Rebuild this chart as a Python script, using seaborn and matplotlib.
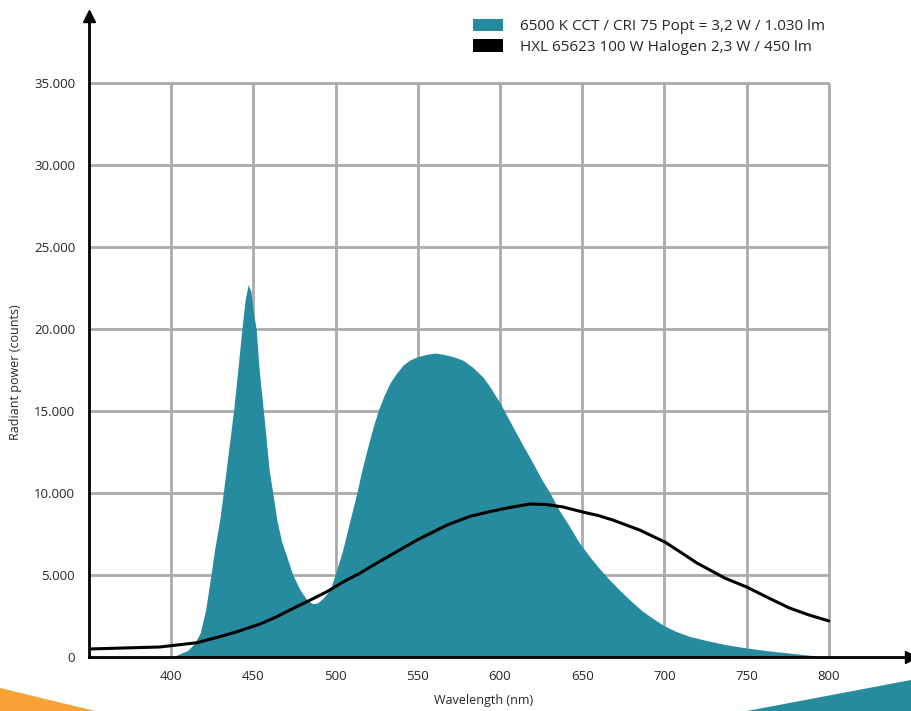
import matplotlib
matplotlib.use("Agg")
import matplotlib.pyplot as plt
from matplotlib.patches import Patch, Polygon
from matplotlib.ticker import FuncFormatter
import seaborn as sns
import pandas as pd

# LED 6500 K spectrum
led_wl = [350, 400, 403, 410, 414, 417.6, 421, 423.7, 426.5, 429.8, 432.8, 437.9, 440.5, 443, 445,
          446.8, 448.5, 450, 451.7, 453.5, 456.1, 459.6, 464.3, 467, 470.3, 474, 478.4, 482.5,
          486, 489, 492, 496.7, 500, 504, 508.8, 512.9, 516, 519, 522.5, 526, 529.5, 533, 537, 541,
          545, 549.4, 555, 560.5, 566, 572, 577.5, 583, 589.7, 594, 600, 608, 614, 620, 625, 630.4,
          636, 642.5, 648, 654.7, 660, 665, 672, 679, 686, 693, 700, 707, 715.5, 725.8, 737, 750,
          763, 776, 788, 800]
led_val = [0, 0, 100, 400, 800, 1460, 2900, 4700, 6600, 8560, 10900, 15000, 17500, 20000, 21800,
           22700, 22300, 21000, 20000, 17500, 15000, 11400, 8350, 7100, 6120, 5000, 4090, 3480,
           3250, 3300, 3550, 4090, 5120, 6400, 8350, 10000, 11400, 12600, 13900, 15060, 15950, 16700, 17300, 17800,
           18100, 18300, 18450, 18540, 18450, 18300, 18100, 17700, 17070, 16460, 15490, 14000, 12900, 11830, 10900, 10000,
           8950, 7930, 7000, 6100, 5450, 4880, 4150, 3480, 2850, 2350, 1900, 1560, 1250, 1000, 760, 550,
           380, 240, 110, 0]

# halogen lamp spectrum
hal_wl = [350, 375, 393, 400, 415.6, 428, 440, 454, 464.3, 472.3, 482.5, 494.7, 505, 515, 521, 535,
          549.5, 567.8, 581.8, 594, 605, 618.2, 628, 638.3, 650.4, 660, 668.7, 685, 700.3, 710, 719.8,
          737, 750, 763, 776, 788, 800]
hal_val = [490, 560, 610, 690, 870, 1200, 1540, 2010, 2460, 2870, 3370, 3980, 4600, 5120, 5490, 6300,
           7130, 8050, 8580, 8870, 9100, 9330, 9300, 9150, 8840, 8620, 8350, 7740, 7010, 6380, 5730,
           4800, 4270, 3620, 2990, 2560, 2200]

x_ticks = [400, 450, 500, 550, 600, 650, 700, 750, 800]
y_ticks = [0, 5000, 10000, 15000, 20000, 25000, 30000, 35000]

led_label = "6500 K CCT / CRI 75 Popt = 3,2 W / 1.030 lm"
hal_label = "HXL 65623 100 W Halogen 2,3 W / 450 lm"

TEAL = "#268b9e"
GRID = "#aaaaaa"

sns.set_theme(style="white")
plt.rcParams["font.family"] = ["Open Sans", "DejaVu Sans"]

W, H = 911, 711
fig = plt.figure(figsize=(W / 100, H / 100), dpi=100)
ax = fig.add_axes([89 / W, 1 - 657 / H, 1 - 89 / W, (657 - 16) / H])

df_led = pd.DataFrame({"wl": led_wl, "val": led_val})
df_hal = pd.DataFrame({"wl": hal_wl, "val": hal_val})

# grid only inside the 350-800 / 0-35000 box
ax.vlines(x_ticks, 0, 35000, color=GRID, lw=2, zorder=1)
ax.hlines(y_ticks[1:], 350, 800, color=GRID, lw=2, zorder=1)

ax.fill_between(df_led["wl"], 0, df_led["val"], color=TEAL, lw=0, zorder=2)
sns.lineplot(data=df_hal, x="wl", y="val", color="black", lw=2.2, ax=ax, zorder=3)

ax.set_xlim(350, 850)
ax.set_ylim(0, 39090)
ax.set_xticks(x_ticks)
ax.set_yticks(y_ticks)
ax.yaxis.set_major_formatter(FuncFormatter(lambda v, p: f"{int(v):,}".replace(",", ".")))
ax.tick_params(axis="y", length=0, pad=10, labelsize=9.5)
ax.tick_params(axis="x", length=0, pad=9, labelsize=9.5)

for s in ["top", "right"]:
    ax.spines[s].set_visible(False)
for s in ["left", "bottom"]:
    ax.spines[s].set_color("black")
    ax.spines[s].set_linewidth(2)
    ax.spines[s].set_zorder(4)

# arrow heads on the axes
ax.plot([0], [1], marker="^", color="black", ms=8, transform=ax.transAxes, clip_on=False, zorder=5)
ax.plot([1], [0], marker=">", color="black", ms=8, transform=ax.transAxes, clip_on=False, zorder=5)

ax.set_xlabel("Wavelength (nm)", fontsize=9)
ax.set_ylabel("Radiant power (counts)", fontsize=9)
ax.xaxis.set_label_coords(0.48, -0.058)
ax.yaxis.set_label_coords(-0.082, 0.445)

handles = [Patch(facecolor=TEAL, edgecolor="none"), Patch(facecolor="black", edgecolor="none")]
fig.legend(handles, [led_label, hal_label], loc="upper left", bbox_to_anchor=(459 / W, 1 - 5 / H),
           frameon=False, fontsize=11, handlelength=2.0, handleheight=0.9, handletextpad=1.1,
           labelspacing=0.3)

# corner decorations
fig.patches.append(Polygon([(0, 1 - 688 / H), (95 / W, 0), (0, 0)], closed=True,
                           transform=fig.transFigure, facecolor="#f7a234", edgecolor="none"))
fig.patches.append(Polygon([(747 / W, 0), (1, 1 - 680 / H), (1, 0)], closed=True,
                           transform=fig.transFigure, facecolor=TEAL, edgecolor="none"))

fig.savefig("out.png", dpi=100)
